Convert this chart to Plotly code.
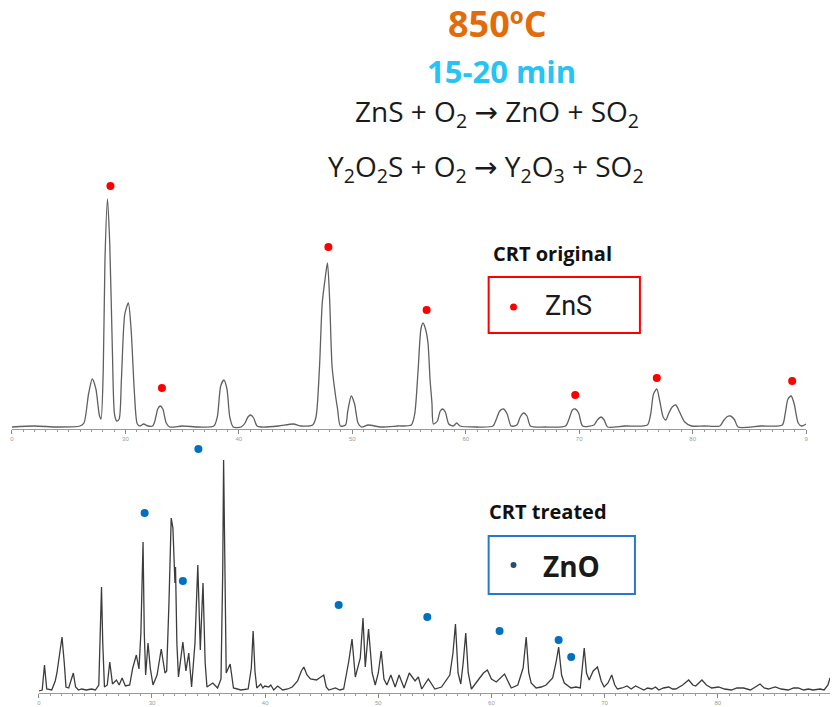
import plotly.graph_objects as go

# ---------------- DATA ----------------
# Top pattern: CRT original (2theta in degrees, intensity arb. units)
top_two_theta = [20.0, 22.0, 24.0, 26.0,
                 26.35, 26.75, 27.08, 27.4, 27.7, 27.85,
                 28.05, 28.2, 28.42, 28.62, 28.85, 29.05, 29.25, 29.45,
                 29.65, 29.95, 30.26, 30.5, 30.8, 31.05,
                 31.3, 31.6, 32.0, 32.4,
                 32.6, 32.85, 33.07, 33.3, 33.6, 33.9,
                 35.0, 36.5, 37.8,
                 38.1, 38.4, 38.68, 38.95, 39.2, 39.5,
                 40.2, 40.55, 40.8, 41.05, 41.3, 41.6, 42.0,
                 43.5, 44.8, 45.5, 46.5,
                 46.8, 47.1, 47.35, 47.6, 47.81, 48.0, 48.22, 48.5, 48.7, 48.95,
                 49.4, 49.6, 49.91, 50.2, 50.5, 50.8,
                 51.4, 52.5, 54.0, 55.2,
                 55.5, 55.8, 56.05, 56.23, 56.45, 56.67, 56.85, 57.02, 57.15,
                 57.5, 57.75, 57.98, 58.2, 58.5,
                 58.9, 59.2, 59.5, 61.0, 62.4,
                 62.7, 63.0, 63.33, 63.65, 64.0,
                 64.5, 64.8, 65.09, 65.4, 65.7,
                 67.0, 68.8,
                 69.1, 69.4, 69.65, 69.95, 70.3,
                 71.3, 71.6, 71.93, 72.2, 72.5,
                 74.0, 76.0,
                 76.3, 76.55, 76.84, 77.1, 77.4, 77.63,
                 77.9, 78.2, 78.51, 78.85, 79.3, 79.9,
                 81.0, 82.4,
                 82.7, 83.0, 83.33, 83.7, 84.0,
                 86.0, 87.9,
                 88.15, 88.4, 88.68, 88.95, 89.3, 89.6, 90.0]
top_intensity = [2, 3, 2, 3,
                 6, 35, 50, 40, 14, 10,
                 60, 170, 230, 185, 80, 14, 8, 10,
                 50, 115, 126, 100, 35, 5,
                 3, 5, 3, 3,
                 8, 20, 23, 20, 6, 2,
                 3, 2, 3,
                 12, 43, 49, 40, 12, 2,
                 2, 6, 12, 14, 11, 3, 2,
                 3, 5, 3, 4,
                 12, 60, 126, 150, 166, 130, 62, 35, 20, 3,
                 4, 18, 33, 25, 6, 2,
                 4, 2, 3, 4,
                 15, 59, 100, 106, 100, 86, 50, 26, 5,
                 8, 18, 20, 17, 5,
                 3, 6, 3, 2, 3,
                 10, 18, 20, 15, 3,
                 4, 12, 16, 13, 3,
                 2, 3,
                 10, 19, 20, 16, 3,
                 4, 9, 12, 9, 2,
                 3, 4,
                 15, 35, 40, 28, 12, 9,
                 16, 22, 24, 17, 7, 3,
                 3, 3,
                 8, 12, 13, 9, 2,
                 3, 4,
                 15, 30, 33, 25, 6, 3, 5]

# ZnS markers on the original pattern
zns_two_theta = [28.68, 33.22, 47.89, 56.55, 69.65, 76.84, 88.77]
zns_intensity = [243, 41, 182, 119, 34, 51, 48]

# Bottom pattern: CRT treated
bottom_two_theta = [20.0, 20.3, 20.5, 20.7, 21.14, 21.45, 21.6, 21.85, 22.05, 22.25,
                    22.4, 22.64, 22.85, 23.05, 23.25, 23.5, 23.78, 24.2, 24.66, 25.0,
                    25.3, 25.45, 25.54, 25.65, 25.8, 26.05, 26.27, 26.51, 26.86, 27.1,
                    27.36, 27.65, 28.03, 28.3, 28.62, 28.85, 29.02, 29.21, 29.32, 29.44,
                    29.65, 29.85, 30.09, 30.45, 30.82, 31.15, 31.3, 31.5, 31.7, 31.85,
                    31.95, 32.03, 32.08, 32.2, 32.34, 32.55, 32.73, 33.0, 33.25, 33.5,
                    33.8, 34.05, 34.2, 34.27, 34.4, 34.51, 34.7, 34.86, 35.37, 35.8,
                    36.1, 36.25, 36.33, 36.42, 36.56, 36.91, 37.2, 37.85, 38.5, 38.78,
                    38.94, 39.1, 39.26, 39.61, 39.8, 39.96, 40.32, 40.5, 40.76, 41.11,
                    41.55, 42.0, 42.4, 42.87, 43.2, 43.42, 43.7, 44.01, 44.54, 44.8,
                    45.18, 45.4, 45.62, 46.21, 46.6, 46.94, 47.38, 47.68, 47.97, 48.41,
                    48.65, 48.85, 49.14, 49.46, 49.73, 50.0, 50.26, 50.5, 50.76, 51.11,
                    51.49, 51.84, 52.28, 52.74, 53.25, 53.54, 53.84, 54.42, 55.0, 55.59,
                    56.32, 56.6, 56.82, 57.05, 57.29, 57.5, 57.73, 57.95, 58.23, 58.96,
                    59.3, 59.64, 60.0, 60.43, 61.16, 61.75, 62.33, 62.8, 63.07, 63.3,
                    63.51, 63.95, 64.4, 64.83, 65.41, 65.7, 65.94, 66.2, 66.44, 67.03,
                    67.47, 67.85, 68.05, 68.2, 68.4, 68.64, 68.99, 69.37, 69.7, 69.96,
                    70.3, 70.63, 70.9, 71.13, 71.55, 71.98, 72.35, 72.74, 73.1, 73.47,
                    73.8, 74.18, 74.5, 74.79, 75.2, 75.67, 76.0, 76.29, 76.9, 77.43,
                    77.8, 78.05, 78.6, 79.0, 79.46, 80.07, 80.6, 81.21, 81.7, 82.27,
                    82.89, 83.3, 83.74, 84.1, 84.47, 85.08, 85.6, 86.23, 86.7, 87.11,
                    87.6, 88.0, 88.43, 89.04, 89.4, 89.74, 89.92]
bottom_intensity = [2, 3, 28, 4, 3, 12, 20, 40, 56, 30,
                    6, 5, 14, 20, 6, 3, 4, 3, 4, 3,
                    8, 60, 106, 50, 6, 8, 31, 9, 13, 8,
                    15, 7, 8, 25, 38, 24, 60, 151, 60, 18,
                    50, 25, 8, 18, 44, 20, 22, 90, 175, 165,
                    120, 110, 126, 50, 16, 35, 51, 22, 40, 6,
                    50, 128, 60, 43, 80, 110, 30, 6, 10, 5,
                    14, 120, 233, 120, 20, 29, 5, 3, 4, 25,
                    62, 22, 5, 9, 5, 7, 6, 8, 3, 7,
                    3, 4, 6, 12, 22, 26, 18, 14, 13, 15,
                    18, 6, 3, 5, 3, 4, 31, 54, 16, 35,
                    75, 26, 64, 20, 8, 20, 42, 14, 8, 18,
                    6, 18, 5, 20, 12, 16, 4, 14, 4, 6,
                    18, 40, 69, 20, 9, 30, 60, 20, 4, 15,
                    20, 23, 14, 11, 19, 5, 8, 25, 56, 20,
                    10, 5, 6, 8, 15, 30, 46, 18, 10, 5,
                    6, 5, 25, 45, 20, 13, 22, 26, 12, 6,
                    10, 18, 8, 4, 5, 7, 4, 7, 5, 3,
                    5, 4, 6, 3, 5, 6, 4, 4, 8, 13,
                    8, 7, 13, 8, 5, 6, 4, 3, 5, 5,
                    3, 6, 9, 5, 4, 6, 4, 3, 5, 5,
                    3, 4, 3, 4, 3, 8, 15]

# ZnO markers on the treated pattern
zno_two_theta = [29.35, 32.73, 34.10, 46.50, 54.33, 60.72, 65.94, 67.05]
zno_intensity = [180, 112, 244, 88, 76, 62, 53, 36]

top_tick_vals = [20, 30, 40, 50, 60, 70, 80, 90]
top_tick_text = ["0", "30", "40", "50", "60", "70", "80", "9"]
bottom_tick_vals = [20, 30, 40, 50, 60, 70, 80]
bottom_tick_text = ["0", "30", "40", "50", "60", "70", "80"]

# ---------------- FIGURE ----------------
W, H = 832, 707


def px(x):
    return x / W


def py(y):
    return 1 - y / H


fig = go.Figure()

fig.add_trace(go.Scatter(x=top_two_theta, y=top_intensity, mode="lines",
                         line=dict(color="#606060", width=1.3, shape="spline", smoothing=0.7),
                         xaxis="x", yaxis="y", hoverinfo="skip"))
fig.add_trace(go.Scatter(x=zns_two_theta, y=zns_intensity, mode="markers",
                         marker=dict(color="#FF0000", size=8),
                         xaxis="x", yaxis="y"))
fig.add_trace(go.Scatter(x=bottom_two_theta, y=bottom_intensity, mode="lines",
                         line=dict(color="#3c3c3c", width=1.3),
                         xaxis="x2", yaxis="y2", hoverinfo="skip"))
fig.add_trace(go.Scatter(x=zno_two_theta, y=zno_intensity, mode="markers",
                         marker=dict(color="#0070C0", size=8),
                         xaxis="x2", yaxis="y2"))

axis_common = dict(showgrid=False, zeroline=False, showline=True, linecolor="#9a9a9a",
                   linewidth=1, ticks="outside", ticklen=4, tickcolor="#8a8a8a",
                   tickfont=dict(size=6, color="#9a9a9a", family="Liberation Sans"),
                   tickmode="array",
                   minor=dict(dtick=1, ticks="outside", ticklen=2, tickcolor="#9a9a9a"))

fig.update_layout(
    width=W, height=H, margin=dict(l=0, r=0, t=0, b=0),
    paper_bgcolor="white", plot_bgcolor="rgba(0,0,0,0)", showlegend=False,
    xaxis=dict(domain=[px(10), px(808)], range=[20, 90], anchor="y",
               tickvals=top_tick_vals, ticktext=top_tick_text, **axis_common),
    yaxis=dict(domain=[py(429), py(169)], range=[0, 260], visible=False),
    xaxis2=dict(domain=[px(37), 1.0], range=[20, 89.92], anchor="y2",
                tickvals=bottom_tick_vals, ticktext=bottom_tick_text, **axis_common),
    yaxis2=dict(domain=[py(693), py(440)], range=[0, 253], visible=False),
)

ARROW = '<span style="font-family:DejaVu Sans">→</span>'
ann = []
ann.append(dict(text="<b>850ºC</b>", x=px(498), y=py(24), font=dict(family="Open Sans", size=36, color="#E36C0A")))
ann.append(dict(text="<b>15-20 min</b>", x=px(502), y=py(71), font=dict(family="Open Sans", size=31, color="#26C3F3")))
ann.append(dict(text="ZnS + O<sub>2</sub> " + ARROW + " ZnO + SO<sub>2</sub>", x=px(497), y=py(113),
                font=dict(family="Open Sans", size=28, color="#1a1a1a")))
ann.append(dict(text="Y<sub>2</sub>O<sub>2</sub>S + O<sub>2</sub> " + ARROW + " Y<sub>2</sub>O<sub>3</sub> + SO<sub>2</sub>",
                x=px(486), y=py(168), font=dict(family="Open Sans", size=28, color="#1a1a1a")))
ann.append(dict(text="<b>CRT original</b>", x=px(553), y=py(253), font=dict(family="Open Sans", size=20, color="#111111")))
ann.append(dict(text="ZnS", x=px(569), y=py(306), font=dict(family="Roboto", size=27, color="#1a1a1a")))
ann.append(dict(text="<b>CRT treated</b>", x=px(549), y=py(511), font=dict(family="Open Sans", size=20, color="#111111")))
ann.append(dict(text="<b>ZnO</b>", x=px(572), y=py(566), font=dict(family="Open Sans", size=28, color="#1a1a1a")))
for a in ann:
    a.update(xref="paper", yref="paper", xanchor="center", yanchor="middle", showarrow=False)
fig.update_layout(annotations=ann)

shapes = [
    dict(type="rect", xref="paper", yref="paper", x0=px(489), x1=px(641), y0=py(333), y1=py(277),
         line=dict(color="#FF0000", width=2)),
    dict(type="circle", xref="paper", yref="paper", x0=px(510.5), x1=px(517.5), y0=py(310.5), y1=py(303.5),
         fillcolor="#FF0000", line=dict(width=0)),
    dict(type="rect", xref="paper", yref="paper", x0=px(489), x1=px(636), y0=py(594), y1=py(536),
         line=dict(color="#2878CC", width=2)),
    dict(type="circle", xref="paper", yref="paper", x0=px(511), x1=px(517), y0=py(568), y1=py(562),
         fillcolor="#1F4E79", line=dict(width=0)),
]
fig.update_layout(shapes=shapes)

fig.write_html("out.html", config={"displayModeBar": False},
               post_script="document.body.style.margin='0';")
